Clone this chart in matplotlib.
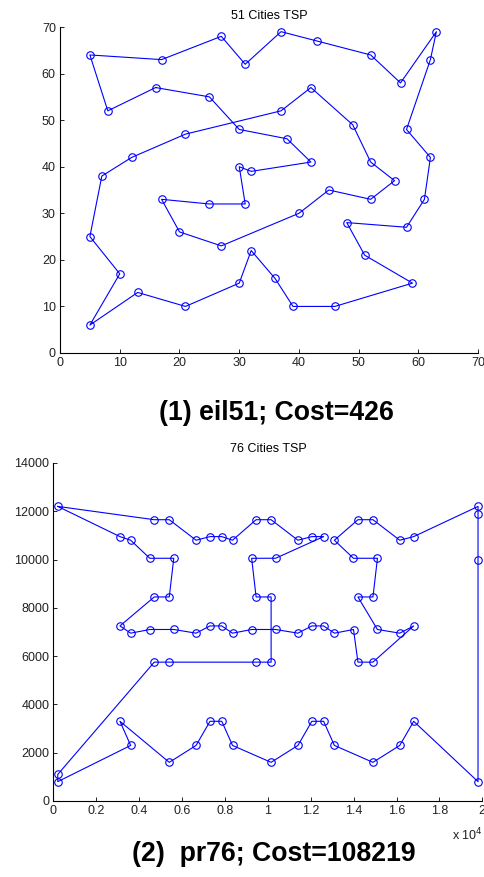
import matplotlib
matplotlib.use("Agg")
import matplotlib.pyplot as plt

plt.rcParams["font.family"] = ["Liberation Sans", "DejaVu Sans"]

# eil51 tour (visiting order, closed back to the first city)
eil51_x = [16, 25, 30, 38, 42, 32, 30, 31, 25, 17, 20, 27, 40, 45, 52, 56, 52,
           49, 42, 37, 21, 12, 7, 5, 10, 5, 13, 21, 30, 32, 36, 39, 46, 59, 51,
           48, 58, 61, 62, 58, 62, 63, 57, 52, 43, 37, 31, 27, 17, 5, 8]
eil51_y = [57, 55, 48, 46, 41, 39, 40, 32, 32, 33, 26, 23, 30, 35, 33, 37, 41,
           49, 57, 52, 47, 42, 38, 25, 17, 6, 13, 10, 15, 22, 16, 10, 10, 15, 21,
           28, 27, 33, 42, 48, 63, 69, 58, 64, 67, 69, 62, 68, 63, 64, 52]

# pr76 tour
pr76_x = [200, 3100, 3600, 4492, 5610, 5400, 4700, 3100, 3600, 4493, 5608, 6650,
          7300, 7850, 8350, 9243, 10358, 11400, 12050, 12600, 13100, 13993,
          14200, 14900, 16800, 16150, 15108, 14200, 14900, 15110, 13992, 13100,
          14200, 14900, 16150, 16800, 19800, 19800, 19800, 19800, 16800, 16150,
          14900, 13100, 12600, 12050, 11400, 10150, 8350, 7850, 7300, 6650, 5400,
          3100, 3600, 200, 200, 4700, 5400, 9450, 10150, 10150, 9450, 9242,
          10360, 12600, 12050, 11400, 10150, 9450, 8350, 7850, 7300, 6650, 5400,
          4700]
pr76_y = [12200, 10950, 10800, 10052, 10053, 8450, 8450, 7250, 6950, 7102, 7103,
          6950, 7250, 7250, 6950, 7102, 7103, 6950, 7250, 7250, 6950, 7102, 5750,
          5750, 7250, 6950, 7103, 8450, 8450, 10053, 10052, 10800, 11650, 11650,
          10800, 10950, 12200, 11900, 10000, 800, 3300, 2300, 1600, 2300, 3300,
          3300, 2300, 1600, 2300, 3300, 3300, 2300, 1600, 3300, 2300, 800, 1100,
          5750, 5750, 5750, 5750, 8450, 8450, 10052, 10053, 10950, 10950, 10800,
          11650, 11650, 10800, 10950, 10950, 10800, 11650, 11650]

pr76_xticks = [0, 2000, 4000, 6000, 8000, 10000, 12000, 14000, 16000, 18000, 20000]
pr76_xlabels = ["0", "0.2", "0.4", "0.6", "0.8", "1", "1.2", "1.4", "1.6", "1.8", "2"]


def style(ax):
    for s in ("top", "right"):
        ax.spines[s].set_visible(False)
    for s in ("left", "bottom"):
        ax.spines[s].set_linewidth(0.8)
    ax.tick_params(direction="in", length=3, width=0.6, labelsize=9,
                   labelcolor="#222222", pad=3)


def tour(ax, xs, ys):
    # closed path, then the cities on top once each
    ax.plot(xs + xs[:1], ys + ys[:1], color="#0000ff", lw=0.8)
    ax.plot(xs, ys, ls="none", marker="o", ms=5.4, mfc="none",
            mec="#0000ff", mew=0.8)


fig = plt.figure(figsize=(4.84, 8.77), dpi=100)

ax1 = fig.add_axes([0.124, 0.5975, 0.864, 0.3717])
tour(ax1, eil51_x, eil51_y)
ax1.set_xlim(0, 70)
ax1.set_ylim(0, 70)
ax1.set_xticks(range(0, 71, 10))
ax1.set_yticks(range(0, 71, 10))
ax1.set_title("51 Cities TSP", fontsize=9, pad=6)
style(ax1)

ax2 = fig.add_axes([0.1105, 0.0867, 0.886, 0.3854])
tour(ax2, pr76_x, pr76_y)
ax2.set_xlim(0, 20000)
ax2.set_ylim(0, 14000)
ax2.set_xticks(pr76_xticks)
ax2.set_xticklabels(pr76_xlabels)
ax2.set_yticks(range(0, 14001, 2000))
ax2.set_title("76 Cities TSP", fontsize=9, pad=8)
style(ax2)
ax2.text(1.0, -0.075, r"x 10$^{4}$", transform=ax2.transAxes, ha="right",
         va="top", fontsize=9, color="#222222")

fig.text(276 / 484, 1 - 413 / 877, "(1) eil51; Cost=426", ha="center",
         va="center", fontsize=19.2, fontweight="bold")
fig.text(274 / 484, 1 - 854 / 877, "(2)  pr76; Cost=108219", ha="center",
         va="center", fontsize=19.2, fontweight="bold")

fig.savefig("out.png", dpi=100)
